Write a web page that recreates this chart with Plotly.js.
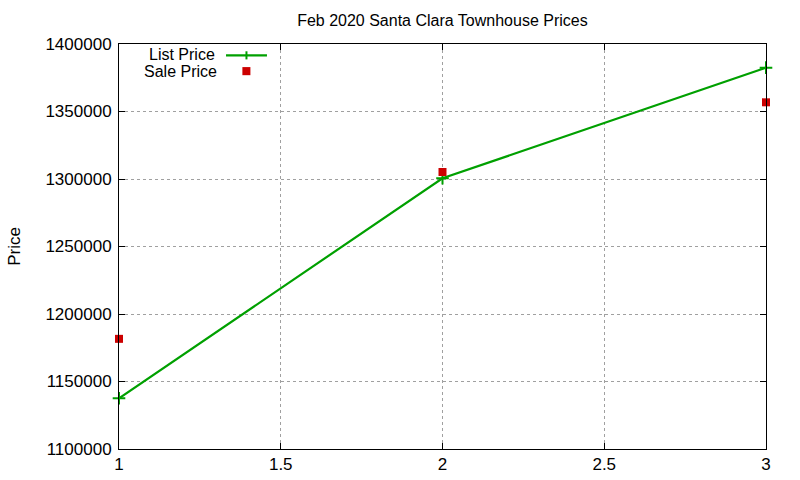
<!DOCTYPE html>
<html>
<head>
<meta charset="utf-8">
<script src="https://cdn.plot.ly/plotly-3.0.1.min.js"></script>
<style>
  html, body { margin: 0; padding: 0; background: #fff; }
  #myDiv { width: 800px; height: 480px; }
</style>
</head>
<body>
<div id="myDiv"></div>
<script>
// data
var xVals = [1, 2, 3];
var listPrice = [1137600, 1300500, 1382500];
var salePrice = [1181600, 1305200, 1356800];

var green = '#00a000';
var red = '#cc0000';
var fontFam = 'Liberation Sans, Arial, sans-serif';

var List = {
  x: xVals,
  y: listPrice,
  mode: 'lines+markers',
  name: 'List Price',
  line: { color: green, width: 2.2 },
  marker: { symbol: 'cross-thin', size: 9, color: green, line: { color: green, width: 2 } },
  cliponaxis: false
};

var Sale = {
  x: xVals,
  y: salePrice,
  mode: 'markers',
  name: 'Sale Price',
  marker: { symbol: 'square', size: 8, color: red },
  cliponaxis: false
};

var data = [List, Sale];

var axisCommon = {
  showline: true,
  linecolor: '#000',
  linewidth: 1,
  mirror: 'ticks',
  ticks: 'inside',
  ticklen: 6,
  tickcolor: '#000',
  showgrid: true,
  gridcolor: '#a0a0a0',
  griddash: 'dot',
  gridwidth: 1,
  zeroline: false,
  tickfont: { family: fontFam, size: 17, color: '#000' }
};

var layout = {
  width: 800,
  height: 480,
  margin: { l: 119, r: 34, t: 44, b: 31 },
  paper_bgcolor: '#fff',
  plot_bgcolor: '#fff',
  showlegend: false,
  font: { family: fontFam, size: 16, color: '#000' },
  title: {
    text: 'Feb 2020 Santa Clara Townhouse Prices',
    font: { family: fontFam, size: 16, color: '#000' },
    x: 0.553,
    xanchor: 'center',
    y: 0.958,
    yanchor: 'middle'
  },
  xaxis: Object.assign({}, axisCommon, {
    range: [1, 3],
    tick0: 1,
    dtick: 0.5,
    ticklabelstandoff: 0
  }),
  yaxis: Object.assign({}, axisCommon, {
    range: [1100000, 1400000],
    tick0: 1100000,
    dtick: 50000,
    tickformat: 'd',
    ticklabelstandoff: 3,
    title: {
      text: 'Price',
      font: { family: fontFam, size: 17, color: '#000' },
      standoff: 20
    }
  }),
  // key drawn gnuplot-style: text first, sample after
  annotations: [
    { xref: 'paper', yref: 'paper', x: 0.151, y: 0.973, xanchor: 'right', yanchor: 'middle',
      text: 'List Price', showarrow: false, font: { family: fontFam, size: 16, color: '#000' } },
    { xref: 'paper', yref: 'paper', x: 0.154, y: 0.933, xanchor: 'right', yanchor: 'middle',
      text: 'Sale Price', showarrow: false, font: { family: fontFam, size: 16, color: '#000' } }
  ],
  shapes: [
    { type: 'line', xref: 'paper', yref: 'paper', x0: 0.1654, x1: 0.2287, y0: 0.972, y1: 0.972,
      line: { color: green, width: 2.2 } },
    { type: 'line', xref: 'paper', yref: 'paper', x0: 0.197, x1: 0.197, y0: 0.962, y1: 0.982,
      line: { color: green, width: 2 } },
    { type: 'rect', xref: 'paper', yref: 'paper', x0: 0.1907, x1: 0.2031, y0: 0.923, y1: 0.943,
      fillcolor: red, line: { width: 0 } }
  ]
};

Plotly.newPlot('myDiv', data, layout, { displayModeBar: false, staticPlot: true });
</script>
</body>
</html>
